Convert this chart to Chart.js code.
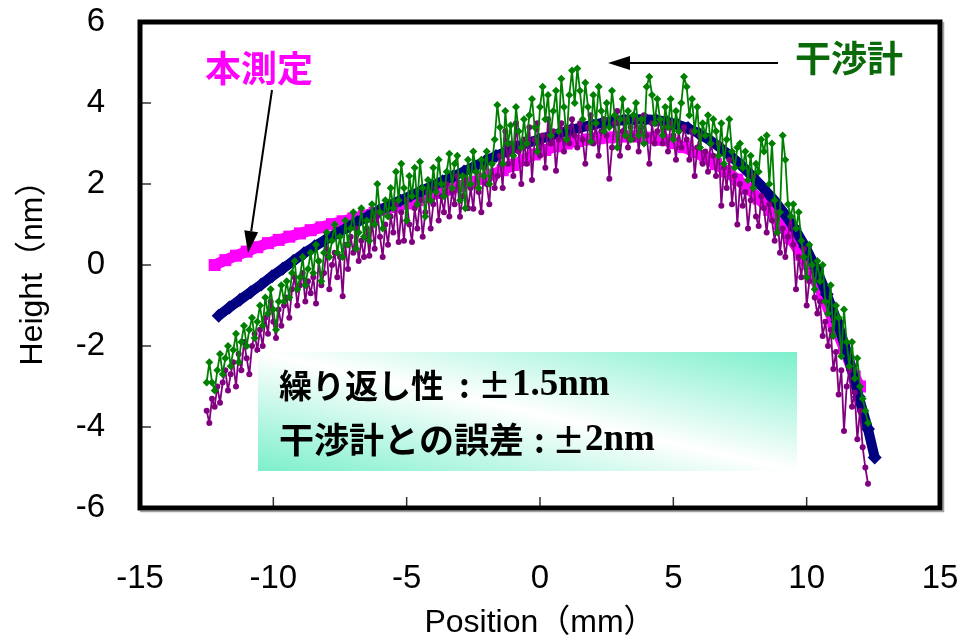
<!DOCTYPE html>
<html>
<head>
<meta charset="utf-8">
<script src="https://cdn.jsdelivr.net/npm/chart.js@4.4.0/dist/chart.umd.min.js"></script>
<style>
  html, body { margin: 0; padding: 0; background: #fff; }
  #wrap { width: 963px; height: 642px; }
</style>
</head>
<body>
<div id="wrap"><canvas id="myChart" width="963" height="642"></canvas></div>
<script>
// axis ticks
const xTickValues = [-15, -10, -5, 0, 5, 10, 15];
const yTickValues = [-6, -4, -2, 0, 2, 4, 6];

// 本測定 (magenta squares)
const measX = [-12.2, -11.8, -11.4, -11.0, -10.6, -10.2, -9.8, -9.4, -9.0, -8.6,
  -8.2, -7.8, -7.4, -7.0, -6.6, -6.2, -5.8, -5.4, -5.0, -4.6,
  -4.2, -3.8, -3.4, -3.0, -2.6, -2.2, -1.8, -1.4, -1.0, -0.6,
  -0.2, 0.2, 0.6, 1.0, 1.4, 1.8, 2.2, 2.6, 3.0, 3.4,
  3.8, 4.2, 4.6, 5.0, 5.4, 5.8, 6.2, 6.6, 7.0, 7.4,
  7.8, 8.2, 8.6, 9.0, 9.4, 9.8, 10.2, 10.6, 11.0, 11.4, 11.8, 12.0];
const measY = [0.0, 0.12, 0.23, 0.33, 0.44, 0.54, 0.62, 0.70, 0.78, 0.86,
  0.93, 1.01, 1.08, 1.15, 1.22, 1.29, 1.37, 1.44, 1.52, 1.60,
  1.69, 1.78, 1.86, 1.95, 2.04, 2.13, 2.23, 2.34, 2.47, 2.60,
  2.73, 2.84, 2.93, 3.00, 3.06, 3.10, 3.13, 3.15, 3.17, 3.18,
  3.17, 3.14, 3.09, 3.01, 2.91, 2.79, 2.65, 2.49, 2.31, 2.11,
  1.89, 1.64, 1.36, 1.02, 0.66, 0.25, -0.22, -0.74, -1.40, -2.05, -2.75, -3.0];

// smoothed interferometer profile (navy diamonds)
const fitX = [-12.05, -11.65, -11.25, -10.85, -10.45, -10.05, -9.65, -9.25, -8.85, -8.45,
  -8.05, -7.65, -7.25, -6.85, -6.45, -6.05, -5.65, -5.25, -4.85, -4.45,
  -4.05, -3.65, -3.25, -2.85, -2.45, -2.05, -1.65, -1.25, -0.85, -0.45,
  -0.05, 0.35, 0.75, 1.15, 1.55, 1.95, 2.35, 2.75, 3.15, 3.55,
  3.95, 4.35, 4.75, 5.15, 5.55, 5.95, 6.35, 6.75, 7.15, 7.55,
  7.95, 8.35, 8.75, 9.15, 9.55, 9.95, 10.35, 10.75, 11.15, 11.55,
  11.95, 12.3, 12.55];
const fitY = [-1.25, -1.05, -0.86, -0.67, -0.48, -0.28, -0.09, 0.10, 0.29, 0.46,
  0.62, 0.77, 0.92, 1.06, 1.20, 1.34, 1.47, 1.59, 1.71, 1.83,
  1.95, 2.07, 2.19, 2.31, 2.44, 2.57, 2.69, 2.81, 2.92, 3.02,
  3.10, 3.18, 3.26, 3.33, 3.40, 3.46, 3.51, 3.55, 3.58, 3.60,
  3.60, 3.58, 3.54, 3.47, 3.38, 3.25, 3.09, 2.90, 2.69, 2.46,
  2.20, 1.92, 1.62, 1.28, 0.90, 0.45, -0.08, -0.72, -1.40, -2.25,
  -3.25, -4.05, -4.75];

// raw scans, 0.1 mm pitch
const scanX = [
  -12.5, -12.4, -12.3, -12.2, -12.1, -12.0, -11.9, -11.8, -11.7, -11.6,
  -11.5, -11.4, -11.3, -11.2, -11.1, -11.0, -10.9, -10.8, -10.7, -10.6,
  -10.5, -10.4, -10.3, -10.2, -10.1, -10.0, -9.9, -9.8, -9.7, -9.6,
  -9.5, -9.4, -9.3, -9.2, -9.1, -9.0, -8.9, -8.8, -8.7, -8.6,
  -8.5, -8.4, -8.3, -8.2, -8.1, -8.0, -7.9, -7.8, -7.7, -7.6,
  -7.5, -7.4, -7.3, -7.2, -7.1, -7.0, -6.9, -6.8, -6.7, -6.6,
  -6.5, -6.4, -6.3, -6.2, -6.1, -6.0, -5.9, -5.8, -5.7, -5.6,
  -5.5, -5.4, -5.3, -5.2, -5.1, -5.0, -4.9, -4.8, -4.7, -4.6,
  -4.5, -4.4, -4.3, -4.2, -4.1, -4.0, -3.9, -3.8, -3.7, -3.6,
  -3.5, -3.4, -3.3, -3.2, -3.1, -3.0, -2.9, -2.8, -2.7, -2.6,
  -2.5, -2.4, -2.3, -2.2, -2.1, -2.0, -1.9, -1.8, -1.7, -1.6,
  -1.5, -1.4, -1.3, -1.2, -1.1, -1.0, -0.9, -0.8, -0.7, -0.6,
  -0.5, -0.4, -0.3, -0.2, -0.1, 0.0, 0.1, 0.2, 0.3, 0.4,
  0.5, 0.6, 0.7, 0.8, 0.9, 1.0, 1.1, 1.2, 1.3, 1.4,
  1.5, 1.6, 1.7, 1.8, 1.9, 2.0, 2.1, 2.2, 2.3, 2.4,
  2.5, 2.6, 2.7, 2.8, 2.9, 3.0, 3.1, 3.2, 3.3, 3.4,
  3.5, 3.6, 3.7, 3.8, 3.9, 4.0, 4.1, 4.2, 4.3, 4.4,
  4.5, 4.6, 4.7, 4.8, 4.9, 5.0, 5.1, 5.2, 5.3, 5.4,
  5.5, 5.6, 5.7, 5.8, 5.9, 6.0, 6.1, 6.2, 6.3, 6.4,
  6.5, 6.6, 6.7, 6.8, 6.9, 7.0, 7.1, 7.2, 7.3, 7.4,
  7.5, 7.6, 7.7, 7.8, 7.9, 8.0, 8.1, 8.2, 8.3, 8.4,
  8.5, 8.6, 8.7, 8.8, 8.9, 9.0, 9.1, 9.2, 9.3, 9.4,
  9.5, 9.6, 9.7, 9.8, 9.9, 10.0, 10.1, 10.2, 10.3, 10.4,
  10.5, 10.6, 10.7, 10.8, 10.9, 11.0, 11.1, 11.2, 11.3, 11.4,
  11.5, 11.6, 11.7, 11.8, 11.9, 12.0, 12.1, 12.2, 12.3];

// 干渉計 (green)
const interfY = [
  -2.9, -2.4, -2.9, -3.1, -2.6, -2.2, -2.7, -2.3, -2.0, -2.5,
  -2.1, -1.7, -2.4, -1.9, -1.5, -2.0, -1.6, -1.3, -1.8, -1.4,
  -1.0, -1.5, -0.8, -1.2, -0.6, -1.1, -1.6, -0.9, -0.5, -0.9,
  -0.4, -0.8, -0.2, 0.1, -0.6, -0.3, 0.2, -0.5, -0.1, 0.3,
  -0.2, 0.5, 0.1, -0.4, 0.3, 0.8, 0.2, 0.6, 1.0, 0.3,
  0.7, 0.2, 1.1, 0.5, 0.9, 1.3, 0.4, 0.8, 1.4, 0.7,
  1.1, 0.6, 1.5, 1.0, 2.0, 1.3, 0.9, 1.6, 1.2, 1.9,
  1.4, 2.3, 1.6, 2.5, 1.9, 1.1, 2.2, 1.7, 2.4, 1.5,
  2.55, 1.9, 1.2, 2.1, 1.6, 2.4, 1.8, 2.6, 2.0, 1.7,
  2.3, 2.75, 1.9, 2.5, 2.7, 1.6, 2.2, 1.4, 2.6, 2.0,
  2.8, 2.3, 1.9, 2.6, 2.2, 2.8, 2.0, 2.5, 3.1, 3.95,
  3.4, 2.5, 3.8, 3.0, 3.45, 2.7, 3.9, 3.3, 2.9, 3.6,
  3.0, 3.7, 4.1, 3.4, 2.8, 3.9, 4.4, 3.6, 4.2, 3.2,
  3.8, 4.3, 3.3, 4.6, 3.9, 3.1, 4.2, 4.8, 4.0, 4.85,
  4.3, 3.6, 4.5, 3.9, 3.05, 4.2, 3.5, 4.4, 3.8, 3.3,
  4.0, 3.4, 4.3, 3.7, 2.9, 3.6, 4.1, 3.2, 3.8, 3.1,
  3.7, 4.0, 3.2, 3.6, 3.0, 4.4, 4.65, 4.2, 3.5, 4.1,
  3.6, 3.2, 3.9, 3.4, 4.1, 3.1, 3.8, 3.3, 4.0, 4.65,
  4.4, 3.7, 4.1, 3.3, 3.9, 2.9, 3.5, 3.2, 3.7, 3.0,
  3.6, 3.3, 2.7, 3.5, 2.5, 3.1, 3.6, 2.8, 2.4, 2.9,
  3.0, 2.4, 2.8, 2.1, 2.7, 1.9, 2.5, 2.3, 3.1, 2.8,
  3.2, 2.0, 3.0, 1.6, 0.8, 1.3, 3.2, 2.6, 1.5, 1.2,
  1.5, 0.9, 1.3, 0.6, 0.2, -0.3, 0.5, 0.0, -0.6, 0.1,
  -0.4, 0.0, -0.9, -1.2, -0.5, -1.75, -1.0, -1.3, -2.25, -1.1,
  -1.9, -2.5, -1.9, -2.8, -2.3, -3.0, -3.3, -3.6, -3.9];

// repeat scan (purple)
const repeatY = [
  -3.6, -3.9, -3.3, -3.5, -3.0, -3.4, -2.9, -2.6, -3.1, -2.7,
  -2.4, -3.0, -2.2, -2.6, -1.9, -2.3, -2.7, -2.0, -1.7, -2.1,
  -1.6, -2.0, -1.3, -1.7, -0.9, -1.4, -1.8, -1.1, -1.5, -1.0,
  -0.8, -1.3, -0.6, -0.3, -1.0, -0.5, -0.2, -0.9, -0.4, -0.7,
  -0.3, -0.95, 0.1, -0.5, -0.2, 0.4, -0.6, 0.0, 0.3, -0.3,
  0.2, -0.77, 0.5, -0.1, 0.7, 0.3, 0.9, 0.1, 0.6, 0.2,
  0.9, 0.23, 1.1, 0.4, 1.3, 0.7, 0.2, 1.0, 0.5, 1.2,
  0.8, 1.5, 0.57, 1.3, 0.6, 1.6, 1.0, 0.57, 1.4, 0.9,
  1.6, 0.7, 1.3, 1.8, 0.9, 1.5, 1.9, 1.1, 1.7, 1.3,
  2.0, 1.2, 1.8, 1.5, 2.2, 1.19, 1.7, 2.1, 1.4, 1.9,
  1.39, 2.3, 1.8, 1.3, 2.4, 2.0, 1.5, 2.5, 1.9, 2.2,
  2.7, 1.9, 3.3, 2.5, 3.0, 2.2, 3.5, 2.8, 2.0, 3.1,
  2.5, 3.4, 2.1, 3.1, 3.5, 2.7, 3.2, 2.4, 3.6, 3.0,
  3.3, 2.33, 3.1, 3.5, 2.8, 3.4, 3.0, 3.6, 3.2, 2.9,
  3.5, 3.1, 2.5, 3.4, 3.7, 3.0, 3.5, 2.7, 3.3, 3.6,
  3.2, 2.13, 2.9, 3.5, 3.8, 2.7, 3.3, 3.6, 2.9, 3.4,
  3.1, 3.6, 2.8, 3.4, 3.7, 3.2, 2.5, 3.5, 3.0, 3.3,
  3.6, 3.0, 3.4, 2.8, 3.5, 3.2, 2.6, 3.3, 2.9, 3.4,
  3.1, 2.6, 3.3, 2.2, 2.9, 3.2, 2.5, 2.8, 2.3, 3.0,
  2.7, 2.2, 3.0, 1.46, 2.4, 1.9, 2.6, 1.5, 2.2, 1.0,
  2.0, 1.46, 1.8, 0.9, 1.6, 2.2, 1.2, 0.96, 1.7, 1.4,
  0.8, 1.5, 1.1, 0.6, 1.3, 0.3, 0.9, 0.2, 0.7, 1.2,
  0.5, -0.6, 0.2, -0.3, 0.4, -1.0, -0.4, 0.0, -0.8, -1.2,
  -0.9, -1.75, -1.4, -2.0, -1.6, -2.57, -2.15, -3.2, -2.6, -4.1,
  -3.0, -2.6, -3.5, -3.15, -4.3, -3.6, -4.5, -5.0, -5.4];

const pairs = (xs, ys) => xs.map((x, i) => ({ x: x, y: ys[i] }));

const sansFont = '"Liberation Sans", Arial, "Noto Sans CJK JP", sans-serif';
const cjkBold = 'bold 33px "Noto Sans CJK JP", sans-serif';
const cjkBoldWide = 'bold 35px "Noto Sans CJK JP", sans-serif';
const serifBold = 'bold 37px "Liberation Serif", "Times New Roman", serif';

// frame with inward ticks
const framePlugin = {
  id: 'frame',
  afterDatasetsDraw(chart) {
    const { ctx, chartArea: a, scales } = chart;
    ctx.save();
    ctx.strokeStyle = '#a0a0a0';
    ctx.lineWidth = 1.5;
    ctx.beginPath();
    ctx.moveTo(a.right + 3.5, a.top);
    ctx.lineTo(a.right + 3.5, a.bottom + 3.5);
    ctx.lineTo(a.left, a.bottom + 3.5);
    ctx.stroke();

    ctx.strokeStyle = '#333';
    ctx.lineWidth = 1.5;
    ctx.beginPath();
    yTickValues.forEach(v => {
      const y = scales.y.getPixelForValue(v);
      ctx.moveTo(a.left, y);
      ctx.lineTo(a.left + 11, y);
    });
    xTickValues.forEach(v => {
      const x = scales.x.getPixelForValue(v);
      ctx.moveTo(x, a.bottom);
      ctx.lineTo(x, a.bottom - 11);
    });
    ctx.stroke();

    ctx.strokeStyle = '#000';
    ctx.lineWidth = 5;
    ctx.strokeRect(a.left, a.top, a.right - a.left, a.bottom - a.top);
    ctx.restore();
  }
};

function arrow(ctx, x1, y1, x2, y2) {
  const ang = Math.atan2(y2 - y1, x2 - x1), len = 22, half = 7;
  const bx = x2 - len * Math.cos(ang), by = y2 - len * Math.sin(ang);
  ctx.beginPath();
  ctx.moveTo(x1, y1);
  ctx.lineTo(bx, by);
  ctx.stroke();
  ctx.beginPath();
  ctx.moveTo(x2, y2);
  ctx.lineTo(bx + half * Math.sin(ang), by - half * Math.cos(ang));
  ctx.lineTo(bx - half * Math.sin(ang), by + half * Math.cos(ang));
  ctx.closePath();
  ctx.fill();
}

// each run: [text, font, x]
function textRuns(ctx, y, runs) {
  runs.forEach(([text, font, x]) => {
    ctx.font = font;
    ctx.fillText(text, x, y);
  });
}

// labels, arrows and the result box
const notesPlugin = {
  id: 'notes',
  afterDraw(chart) {
    const ctx = chart.ctx;
    ctx.save();

    // gradient box
    const bx = 258, by = 352, bw = 539, bh = 119;
    ctx.save();
    ctx.translate(bx, by);
    ctx.scale(bw, bh);
    const g = ctx.createLinearGradient(0, 1, 1, 0);
    g.addColorStop(0, '#7cefcc');
    g.addColorStop(0.5, '#ffffff');
    g.addColorStop(1, '#7cefcc');
    ctx.fillStyle = g;
    ctx.fillRect(0, 0, 1, 1);
    ctx.restore();

    ctx.fillStyle = '#000';
    ctx.textBaseline = 'middle';
    textRuns(ctx, 385, [
      ['繰り返し性', cjkBold, 279], [':', cjkBold, 459],
      ['±', cjkBold, 478], ['1.5nm', serifBold, 512]
    ]);
    textRuns(ctx, 440, [
      ['干渉計との誤差', cjkBoldWide, 279], [':', cjkBold, 534],
      ['±', cjkBold, 552], ['2nm', serifBold, 585]
    ]);

    // series labels
    ctx.font = 'bold 36px "Noto Sans CJK JP", sans-serif';
    ctx.fillStyle = '#ff00ff';
    ctx.fillText('本測定', 205, 68);
    ctx.fillStyle = '#0a6a0a';
    ctx.fillText('干渉計', 795, 58);

    ctx.strokeStyle = '#000';
    ctx.fillStyle = '#000';
    ctx.lineWidth = 2;
    arrow(ctx, 272, 90, 248, 253);
    arrow(ctx, 778, 63, 608, 63);
    ctx.restore();
  }
};

const ctx = document.getElementById('myChart').getContext('2d');
const myChart = new Chart(ctx, {
  type: 'line',
  data: {
    datasets: [{
      label: '干渉計',
      data: pairs(scanX, interfY),
      borderColor: '#008000',
      backgroundColor: '#008000',
      borderWidth: 1.8,
      pointStyle: 'rectRot',
      pointRadius: 4,
      pointBorderWidth: 0,
      borderJoinStyle: 'round',
      order: 0
    }, {
      label: 'repeat',
      data: pairs(scanX, repeatY),
      borderColor: '#800080',
      backgroundColor: '#800080',
      borderWidth: 1.8,
      pointStyle: 'circle',
      pointRadius: 3,
      pointBorderWidth: 0,
      borderJoinStyle: 'round',
      order: 1
    }, {
      label: 'fit',
      data: pairs(fitX, fitY),
      borderColor: '#000080',
      backgroundColor: '#000080',
      borderWidth: 10,
      pointStyle: 'rectRot',
      pointRadius: 7,
      pointBorderWidth: 0,
      borderJoinStyle: 'round',
      order: 2
    }, {
      label: '本測定',
      data: pairs(measX, measY),
      borderColor: '#ff00ff',
      backgroundColor: '#ff00ff',
      borderWidth: 11,
      pointStyle: 'rect',
      pointRadius: 8.5,
      pointBorderWidth: 0,
      borderJoinStyle: 'round',
      order: 3
    }]
  },
  options: {
    responsive: false,
    animation: false,
    layout: { padding: { top: 22, right: 23, left: 0, bottom: 0 } },
    plugins: {
      legend: { display: false },
      tooltip: { enabled: false }
    },
    elements: { line: { tension: 0 } },
    scales: {
      x: {
        type: 'linear',
        min: -15,
        max: 15,
        afterBuildTicks: s => { s.ticks = xTickValues.map(v => ({ value: v })); },
        afterFit: s => { s.height = 134; s.paddingLeft = 0; s.paddingRight = 0; },
        grid: { display: false },
        border: { display: false },
        ticks: {
          autoSkip: false,
          maxRotation: 0,
          padding: 43,
          color: '#000',
          font: { family: sansFont, size: 33 }
        },
        title: {
          display: true,
          text: 'Position（mm）',
          color: '#000',
          padding: { top: 0, bottom: 0 },
          font: { family: sansFont, size: 32 }
        }
      },
      y: {
        type: 'linear',
        min: -6,
        max: 6,
        afterBuildTicks: s => { s.ticks = yTickValues.map(v => ({ value: v })); },
        afterFit: s => { s.width = 140; s.paddingTop = 0; s.paddingBottom = 0; },
        grid: { display: false },
        border: { display: false },
        ticks: {
          autoSkip: false,
          padding: 27,
          color: '#000',
          font: { family: sansFont, size: 33 }
        },
        title: {
          display: true,
          text: 'Height（nm）',
          color: '#000',
          padding: { top: 14, bottom: 0 },
          font: { family: sansFont, size: 32 }
        }
      }
    }
  },
  plugins: [framePlugin, notesPlugin]
});
</script>
</body>
</html>
